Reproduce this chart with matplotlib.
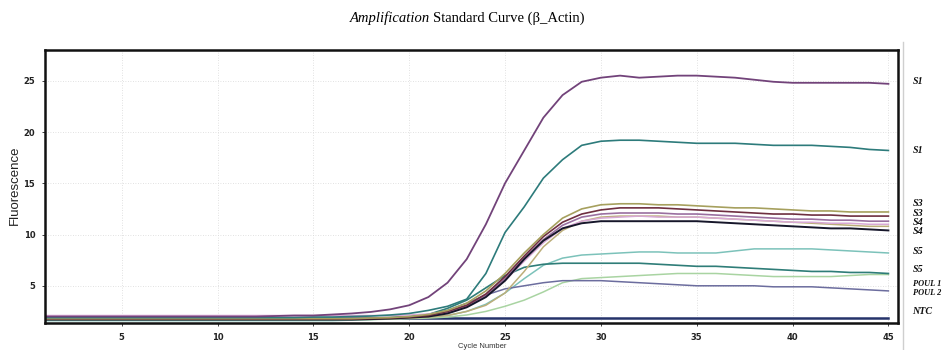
import matplotlib
matplotlib.use("Agg")
import matplotlib.pyplot as plt
from matplotlib.lines import Line2D
from matplotlib.transforms import blended_transform_factory

cycles = list(range(1, 46))

s1_purple = [2.0, 2.0, 2.0, 2.0, 2.0, 2.0, 2.0, 2.0, 2.0, 2.0,
             2.0, 2.0, 2.05, 2.1, 2.1, 2.2, 2.3, 2.45, 2.7, 3.1,
             3.9, 5.3, 7.6, 11.0, 15.0, 18.2, 21.4, 23.6, 24.9, 25.3,
             25.5, 25.3, 25.4, 25.5, 25.5, 25.4, 25.3, 25.1, 24.9, 24.8,
             24.8, 24.8, 24.8, 24.8, 24.7]
s1_teal = [1.9, 1.9, 1.9, 1.9, 1.9, 1.9, 1.9, 1.9, 1.9, 1.9,
           1.9, 1.9, 1.9, 1.9, 1.95, 1.95, 2.0, 2.05, 2.15, 2.3,
           2.6, 3.0, 3.7, 6.2, 10.2, 12.7, 15.5, 17.3, 18.7, 19.1,
           19.2, 19.2, 19.1, 19.0, 18.9, 18.9, 18.9, 18.8, 18.7, 18.7,
           18.7, 18.6, 18.5, 18.3, 18.2]
s3_olive = [1.8, 1.8, 1.8, 1.8, 1.8, 1.8, 1.8, 1.8, 1.8, 1.8,
            1.8, 1.8, 1.8, 1.8, 1.8, 1.8, 1.8, 1.85, 1.9, 2.0,
            2.2, 2.6, 3.3, 4.5, 6.2, 8.2, 10.0, 11.6, 12.5, 12.9,
            13.0, 13.0, 12.9, 12.9, 12.8, 12.7, 12.6, 12.6, 12.5, 12.4,
            12.3, 12.3, 12.2, 12.2, 12.2]
s3_maroon = [1.75, 1.75, 1.75, 1.75, 1.75, 1.75, 1.75, 1.75, 1.75, 1.75,
             1.75, 1.75, 1.75, 1.75, 1.75, 1.75, 1.75, 1.8, 1.85, 1.95,
             2.1, 2.5, 3.1, 4.2, 5.9, 7.9, 9.8, 11.2, 12.0, 12.4,
             12.6, 12.6, 12.6, 12.5, 12.4, 12.3, 12.2, 12.1, 12.0, 12.0,
             11.9, 11.9, 11.8, 11.8, 11.8]
s4_purple = [1.85, 1.85, 1.85, 1.85, 1.85, 1.85, 1.85, 1.85, 1.85, 1.85,
             1.85, 1.85, 1.85, 1.85, 1.85, 1.85, 1.85, 1.85, 1.85, 1.95,
             2.1, 2.4, 3.0, 4.1, 5.7, 7.7, 9.5, 10.9, 11.7, 12.0,
             12.1, 12.1, 12.1, 12.0, 12.0, 11.9, 11.8, 11.7, 11.6, 11.5,
             11.5, 11.4, 11.4, 11.3, 11.3]
s4_pink = [2.1, 2.1, 2.1, 2.1, 2.1, 2.1, 2.1, 2.1, 2.1, 2.1,
           2.1, 2.1, 2.1, 2.1, 2.1, 2.1, 2.1, 2.1, 2.1, 2.15,
           2.25, 2.5, 3.1, 4.0, 5.5, 7.4, 9.2, 10.6, 11.3, 11.6,
           11.7, 11.8, 11.7, 11.7, 11.7, 11.6, 11.5, 11.4, 11.3, 11.2,
           11.2, 11.1, 11.1, 11.0, 11.0]
s4_black = [1.7, 1.7, 1.7, 1.7, 1.7, 1.7, 1.7, 1.7, 1.7, 1.7,
            1.7, 1.7, 1.7, 1.7, 1.7, 1.7, 1.7, 1.75, 1.8, 1.9,
            2.0, 2.3, 2.9, 3.9, 5.5, 7.6, 9.4, 10.6, 11.1, 11.3,
            11.3, 11.3, 11.3, 11.3, 11.3, 11.2, 11.1, 11.0, 10.9, 10.8,
            10.7, 10.6, 10.6, 10.5, 10.4]
s4_tan = [1.8, 1.8, 1.8, 1.8, 1.8, 1.8, 1.8, 1.8, 1.8, 1.8,
          1.8, 1.8, 1.8, 1.8, 1.8, 1.8, 1.8, 1.8, 1.8, 1.85,
          1.95, 2.1, 2.5, 3.1, 4.3, 6.4, 8.8, 10.4, 11.3, 11.7,
          11.8, 11.8, 11.8, 11.7, 11.7, 11.6, 11.5, 11.4, 11.3, 11.2,
          11.1, 11.0, 10.9, 10.8, 10.8]
s5_light = [1.6, 1.6, 1.6, 1.6, 1.6, 1.6, 1.6, 1.6, 1.6, 1.6,
            1.6, 1.6, 1.6, 1.6, 1.6, 1.6, 1.65, 1.7, 1.8, 1.85,
            1.95, 2.1, 2.5, 3.2, 4.3, 5.7, 7.0, 7.7, 8.0, 8.1,
            8.2, 8.3, 8.3, 8.2, 8.2, 8.2, 8.4, 8.6, 8.6, 8.6,
            8.6, 8.5, 8.4, 8.3, 8.2]
s5_dark = [1.85, 1.85, 1.85, 1.85, 1.85, 1.85, 1.85, 1.85, 1.85, 1.85,
           1.85, 1.85, 1.85, 1.85, 1.85, 1.85, 1.85, 1.85, 1.9, 2.0,
           2.2, 2.8, 3.6, 4.8, 6.0, 6.8, 7.1, 7.2, 7.2, 7.2,
           7.2, 7.2, 7.1, 7.0, 6.9, 6.9, 6.8, 6.7, 6.6, 6.5,
           6.4, 6.4, 6.3, 6.3, 6.2]
poul1 = [1.7, 1.7, 1.7, 1.7, 1.7, 1.7, 1.7, 1.7, 1.7, 1.7,
         1.7, 1.7, 1.7, 1.7, 1.7, 1.7, 1.7, 1.7, 1.75, 1.8,
         1.85, 1.95, 2.15, 2.5, 3.0, 3.6, 4.4, 5.3, 5.7, 5.8,
         5.9, 6.0, 6.1, 6.2, 6.2, 6.2, 6.1, 6.0, 5.9, 5.9,
         5.9, 5.9, 6.0, 6.1, 6.1]
poul2 = [1.9, 1.9, 1.9, 1.9, 1.9, 1.9, 1.9, 1.9, 1.9, 1.9,
         1.9, 1.9, 1.9, 1.9, 1.9, 1.9, 1.9, 1.9, 1.9, 1.95,
         2.2, 2.6, 3.3, 4.1, 4.7, 5.0, 5.3, 5.5, 5.5, 5.5,
         5.4, 5.3, 5.2, 5.1, 5.0, 5.0, 5.0, 5.0, 4.9, 4.9,
         4.9, 4.8, 4.7, 4.6, 4.5]
ntc = [1.85, 1.85, 1.85, 1.85, 1.85, 1.85, 1.85, 1.85, 1.85, 1.85,
       1.85, 1.85, 1.85, 1.85, 1.85, 1.85, 1.85, 1.85, 1.85, 1.85,
       1.85, 1.85, 1.85, 1.85, 1.85, 1.85, 1.85, 1.85, 1.85, 1.85,
       1.85, 1.85, 1.85, 1.85, 1.85, 1.85, 1.85, 1.85, 1.85, 1.85,
       1.85, 1.85, 1.85, 1.85, 1.85]

series = [
    (ntc, "#25336a", 1.8),
    (s5_light, "#7cc2ba", 1.1),
    (poul1, "#a9d4a2", 1.1),
    (poul2, "#6c6d9e", 1.1),
    (s5_dark, "#2f7d78", 1.2),
    (s4_tan, "#bcae7a", 1.1),
    (s4_pink, "#d8a9d5", 1.1),
    (s4_purple, "#9a6fa0", 1.2),
    (s4_black, "#16162a", 1.4),
    (s3_maroon, "#6e2f40", 1.2),
    (s3_olive, "#a6a05e", 1.2),
    (s1_teal, "#2d7b7b", 1.2),
    (s1_purple, "#72437a", 1.3),
]

right_labels = ["S1", "S1", "S3", "S3", "S4", "S4", "S5", "S5", "POUL 1", "POUL 2", "NTC"]
right_label_y = [24.9, 18.2, 13.0, 12.1, 11.2, 10.3, 8.3, 6.6, 5.2, 4.3, 2.45]

xticks = [5, 10, 15, 20, 25, 30, 35, 40, 45]
yticks = [5, 10, 15, 20, 25]

fig = plt.figure(figsize=(9.51, 3.5), dpi=100)
ax = fig.add_axes([45 / 951, 27 / 350, 853 / 951, 273 / 350])

for vals, col, lw in series:
    ax.plot(cycles, vals, color=col, lw=lw, solid_joinstyle="round")

ax.set_xlim(1, 45.5)
ax.set_ylim(1.37, 28.0)
ax.set_xticks(xticks)
ax.set_yticks(yticks)
ax.grid(True, color="#d8d8d8", linestyle=(0, (1, 2)), lw=0.6)
ax.tick_params(axis="both", length=2, width=0.6, labelsize=6, pad=5, colors="#222222")
for lab in ax.get_xticklabels() + ax.get_yticklabels():
    lab.set_fontweight("bold")
for sp in ax.spines.values():
    sp.set_linewidth(1.8)
    sp.set_color("#111111")

tr = blended_transform_factory(ax.transAxes, ax.transData)
for lab, yv in zip(right_labels, right_label_y):
    fs = 6.0 if len(lab) > 3 else 7.2
    ax.text(1.017, yv, lab, transform=tr, fontsize=fs, fontweight="bold",
            fontstyle="italic", family="Liberation Serif", va="center",
            ha="left", clip_on=False, color="#111111")

fig.text(15 / 951, 1 - 185 / 350, "Fluorescence", rotation=90, fontsize=9.5,
         family="Liberation Sans", va="center", ha="center", color="#222222")
fig.text(482 / 951, 1 - 346 / 350, "Cycle Number", fontsize=5.5,
         family="Liberation Sans", va="center", ha="center", color="#333333")

fig.text(430 / 951, 1 - 18 / 350, "Amplification", fontsize=10.5,
         family="Liberation Serif", fontstyle="italic", va="center", ha="right")
fig.text(433 / 951, 1 - 18 / 350, "Standard Curve (\u03b2_Actin)", fontsize=10.5,
         family="Liberation Serif", va="center", ha="left")

fig.add_artist(Line2D([903 / 951, 903 / 951], [0, 1 - 42 / 350],
                      transform=fig.transFigure, color="#cfcfcf", lw=1.0))

fig.savefig("out.png", dpi=100)
